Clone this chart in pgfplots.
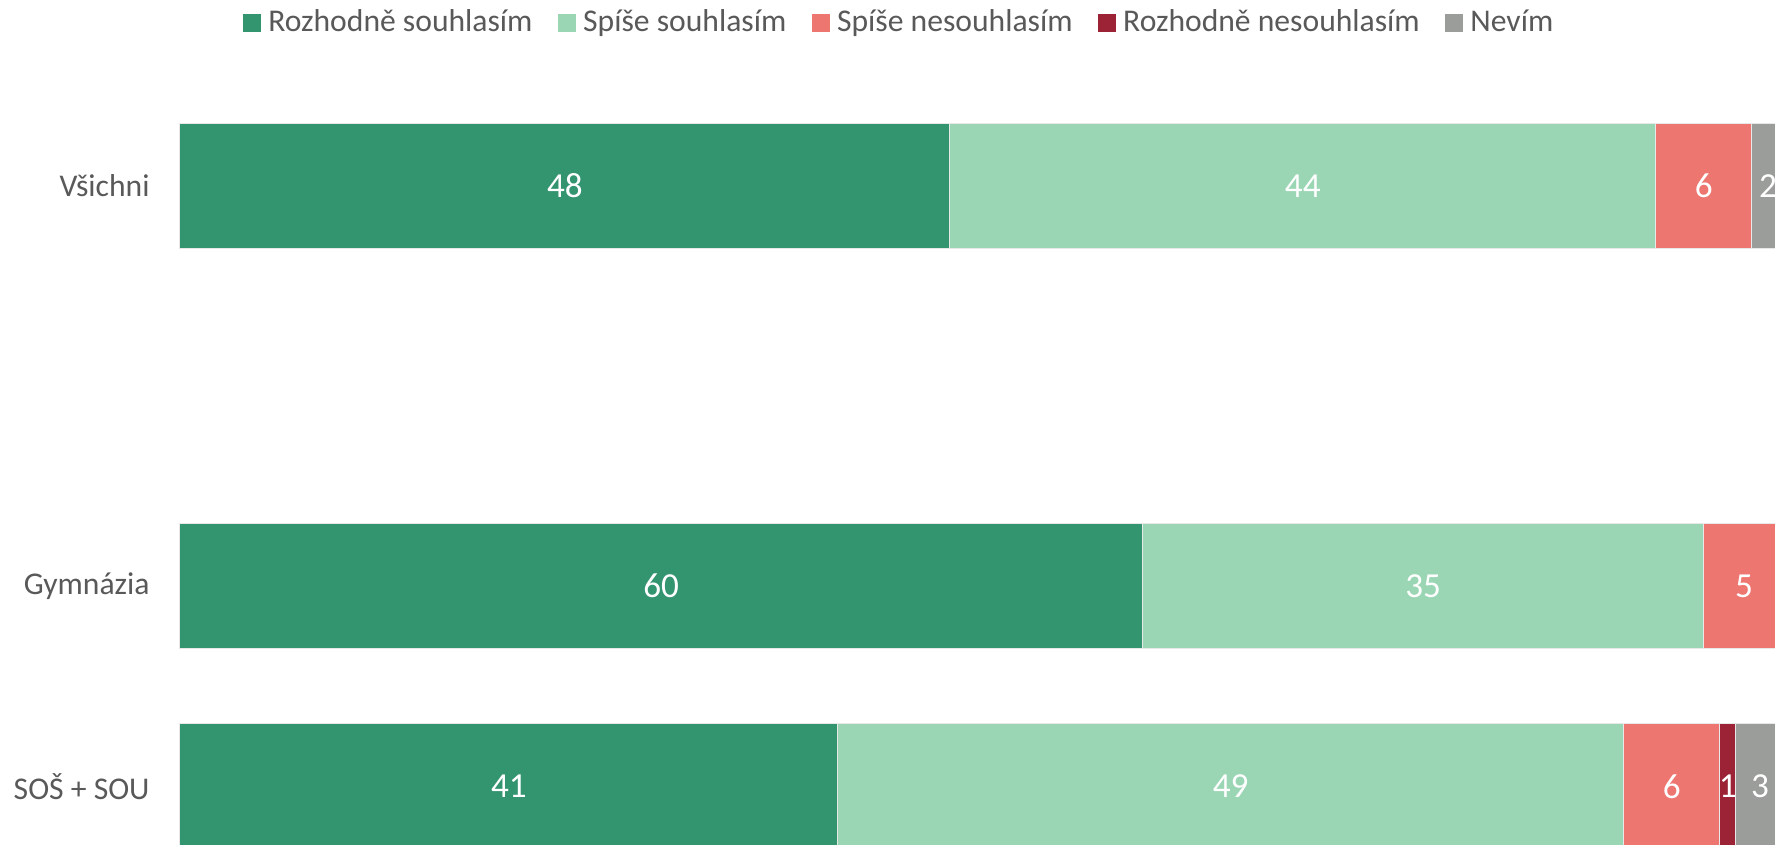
\documentclass[border=0pt]{standalone}
\usepackage{pgfplots}
\pgfplotsset{compat=1.18}
\usepackage{fontspec}
\setmainfont{Carlito}
\definecolor{c1}{RGB}{51,148,112}
\definecolor{c2}{RGB}{155,214,180}
\definecolor{c3}{RGB}{238,118,112}
\definecolor{c4}{RGB}{155,35,53}
\definecolor{c5}{RGB}{155,157,154}
\definecolor{txt}{RGB}{89,89,89}
\begin{document}
\begin{tikzpicture}
\begin{axis}[
  xbar stacked,
  scale only axis,
  width=160.4mm, height=80.09mm,
  xmin=0, xmax=100, ymin=-0.5, ymax=3.5,
  y dir=reverse,
  bar width=12.5mm,
  hide x axis,
  axis line style={draw=none},
  major tick length=0pt,
  ytick={0,2,3},
  yticklabels={Všichni,Gymnázia,SOŠ + SOU},
  yticklabel style={font=\fontsize{9}{10}\selectfont, text=txt, xshift=-1.8mm},
  clip=false,
  legend columns=5,
  legend style={draw=none, at={(0.4500,1.0783)}, anchor=center,
    font=\fontsize{9}{10}\selectfont, text=txt,
    /tikz/every even column/.append style={column sep=1.85mm}},
  legend image code/.code={\fill[#1,draw=none] (0mm,-0.9mm) rectangle (1.8mm,0.9mm);},
  point meta=explicit symbolic,
  nodes near coords={\ifnum\pgfplotspointmeta>0 \pgfplotspointmeta\fi},
  every node near coord/.append style={font=\fontsize{10}{12}\selectfont, text=white,
    anchor=center},
  every axis plot/.append style={draw=white!82!gray, line width=0.1mm},
]
\addplot[fill=c1] coordinates {(48,0) [48] (60,2) [60] (41,3) [41]};
\addlegendentry{Rozhodně souhlasím}
\addplot[fill=c2] coordinates {(44,0) [44] (35,2) [35] (49,3) [49]};
\addlegendentry{Spíše souhlasím}
\addplot[fill=c3] coordinates {(6,0) [6] (5,2) [5] (6,3) [6]};
\addlegendentry{Spíše nesouhlasím}
\addplot[fill=c4] coordinates {(0,0) [0] (0,2) [0] (1,3) [1]};
\addlegendentry{Rozhodně nesouhlasím}
\addplot[fill=c5] coordinates {(2,0) [2] (0,2) [0] (3,3) [3]};
\addlegendentry{Nevím}
\end{axis}
\pgfresetboundingbox
\path[use as bounding box] ([shift={(-18mm,4.16mm)}]current axis.south west) rectangle ([shift={(-0.9mm,8.57mm)}]current axis.north east);
\end{tikzpicture}
\end{document}
